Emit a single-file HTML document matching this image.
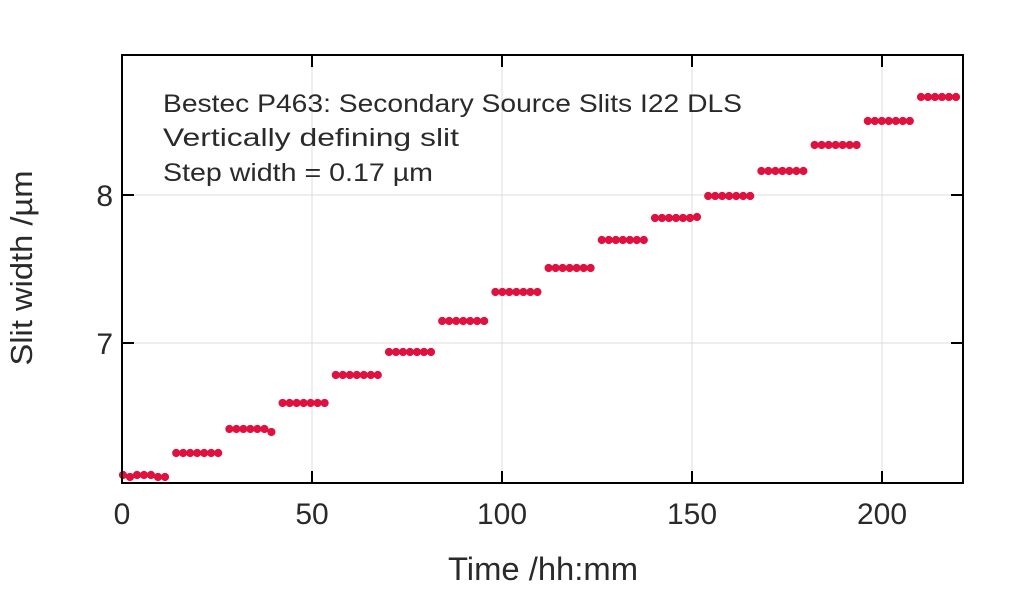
<!DOCTYPE html>
<html><head><meta charset="utf-8"><style>
html,body{margin:0;padding:0;background:#fff;}
svg{display:block;font-family:"Liberation Sans",sans-serif;}
</style></head><body>
<svg id="s" width="1024" height="589" viewBox="0 0 1024 589">
<g stroke="#dcdcdc" stroke-width="1">
<line x1="312" y1="55" x2="312" y2="483"/>
<line x1="502" y1="55" x2="502" y2="483"/>
<line x1="692" y1="55" x2="692" y2="483"/>
<line x1="882" y1="55" x2="882" y2="483"/>
<line x1="122" y1="195" x2="963" y2="195"/>
<line x1="122" y1="343" x2="963" y2="343"/>
</g>
<g id="dots" fill="#e0103f"></g>
<rect x="122" y="55" width="841" height="428" fill="none" stroke="#000" stroke-width="2"/>
<g stroke="#000" stroke-width="2">
<line x1="312" y1="483" x2="312" y2="471"/><line x1="502" y1="483" x2="502" y2="471"/>
<line x1="692" y1="483" x2="692" y2="471"/><line x1="882" y1="483" x2="882" y2="471"/>
<line x1="312" y1="55" x2="312" y2="67"/><line x1="502" y1="55" x2="502" y2="67"/>
<line x1="692" y1="55" x2="692" y2="67"/><line x1="882" y1="55" x2="882" y2="67"/>
<line x1="122" y1="195" x2="134" y2="195"/><line x1="122" y1="343" x2="134" y2="343"/>
<line x1="963" y1="195" x2="951" y2="195"/><line x1="963" y1="343" x2="951" y2="343"/>
</g>
<g font-size="30" fill="#2a2a2a" text-anchor="middle">
<text x="122" y="524">0</text><text x="312" y="524">50</text><text x="502" y="524">100</text>
<text x="692" y="524">150</text><text x="882" y="524">200</text>
<text x="113" y="206" text-anchor="end">8</text><text x="113" y="354" text-anchor="end">7</text>
<text x="543" y="580" font-size="32" textLength="190" lengthAdjust="spacingAndGlyphs">Time /hh:mm</text>
<text transform="translate(32,268) rotate(-90)" font-size="31" textLength="195" lengthAdjust="spacingAndGlyphs">Slit width /µm</text>
</g>
<g font-size="25" fill="#2a2a2a">
<text x="163" y="112" textLength="579" lengthAdjust="spacingAndGlyphs">Bestec P463: Secondary Source Slits I22 DLS</text>
<text x="163" y="146" textLength="296" lengthAdjust="spacingAndGlyphs">Vertically defining slit</text>
<text x="163" y="181" textLength="270" lengthAdjust="spacingAndGlyphs">Step width = 0.17 µm</text>
</g>
</svg>
<script>
var ys=[475,453,429,403,375,352,321,292,268,240,218,196,171,145,121,97];
var g=document.getElementById('dots'),h='';
ys.forEach(function(y,k){for(var i=0;i<7;i++){var x=123+53.2*k+i*7;if(x>962)continue;
var dy=(k==0&&(i==1||i>4))?2:(k==2&&i==6?3:(k==10&&i==6?-1:0));
h+='<circle cx="'+x.toFixed(1)+'" cy="'+(y+dy)+'" r="4.1"/>';}});
g.innerHTML=h;
</script>
</body></html>
